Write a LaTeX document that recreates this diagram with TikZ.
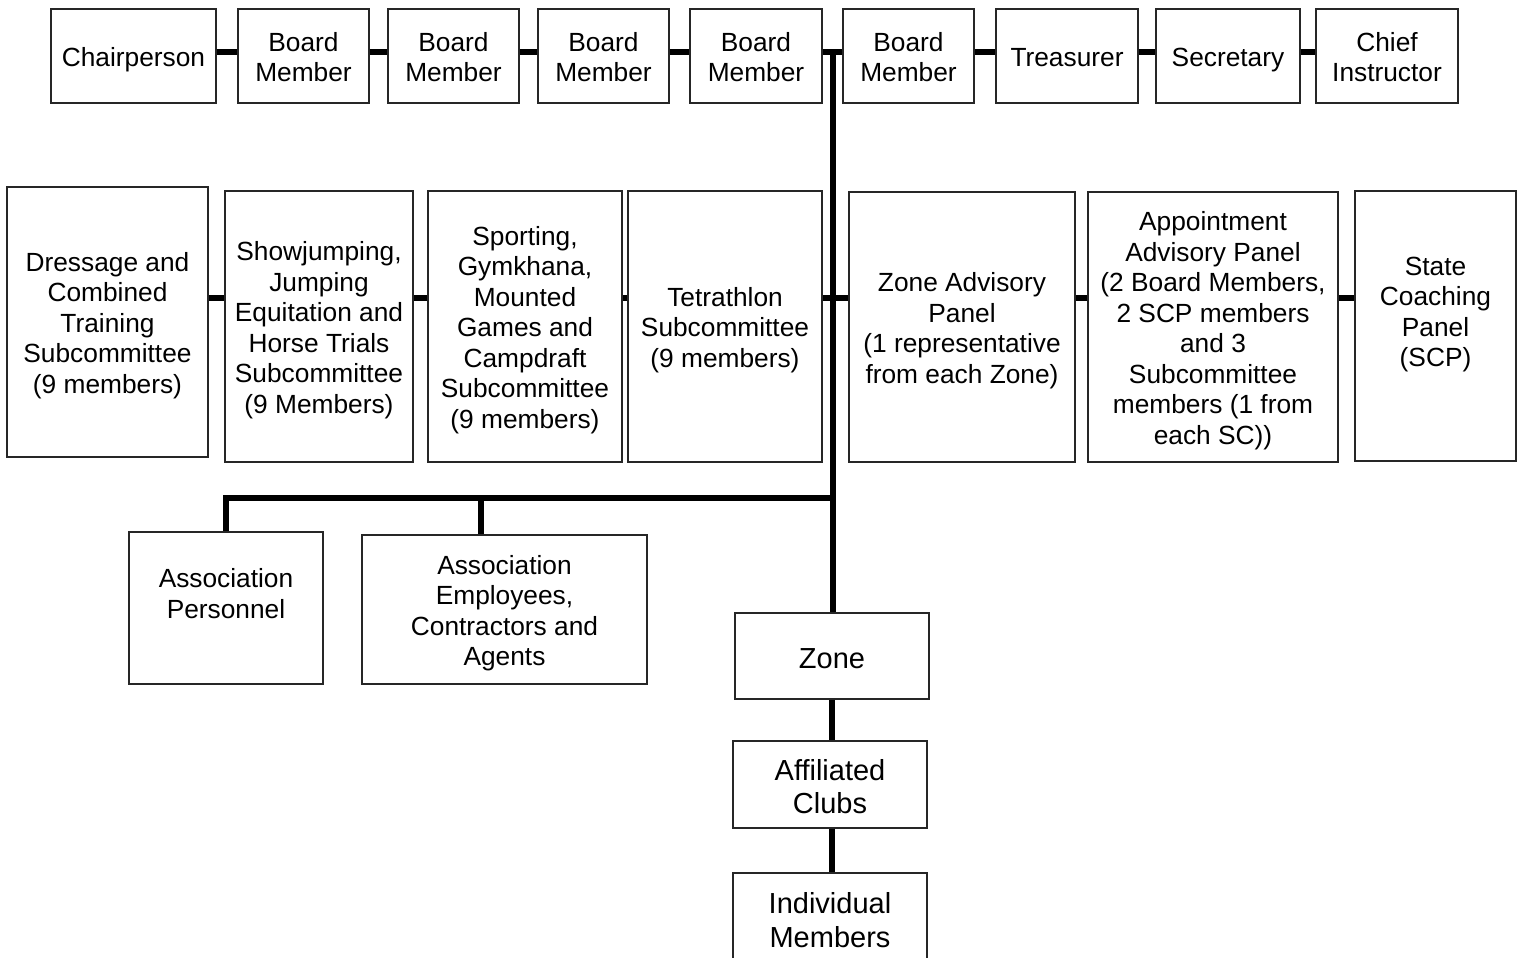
\documentclass[tikz,border=0pt]{standalone}
\usepackage{fontspec}
\setmainfont{Liberation Sans}
\usetikzlibrary{calc}
\newcommand{\orgfont}{\fontsize{26.3}{30.5}\selectfont}
\newcommand{\chainfont}{\fontsize{29}{33.5}\selectfont}

\begin{document}
\begin{tikzpicture}[x=1pt,y=-1pt,
  box/.style={draw=black!85,line width=1.2pt,align=center,inner sep=0pt,font=\orgfont,text depth=5.8pt},
  chain/.style={box,font=\chainfont,text depth=4.5pt},
  size/.style 2 args={minimum width=#1pt,minimum height=#2pt},
  nlines/.code={\pgfmathsetlengthmacro\boxht{26.3pt+(#1-1)*30.5pt}%
    \edef\boxtmp{\noexpand\pgfkeysalso{text height=\boxht}}\boxtmp},
  clines/.code={\pgfmathsetlengthmacro\boxht{29pt+(#1-1)*33.5pt}%
    \edef\boxtmp{\noexpand\pgfkeysalso{text height=\boxht}}\boxtmp},
  link/.style={line width=6pt}]
\useasboundingbox (0,0) rectangle (1523,958);
% Board row
\node[box,nlines=1,size={165}{94}] (chair) at (133.5,56) {Chairperson};
\node[box,nlines=2,size={131}{94}] (bm1) at (303.5,56) {Board\\Member};
\node[box,nlines=2,size={131}{94}] (bm2) at (453.5,56) {Board\\Member};
\node[box,nlines=2,size={131}{94}] (bm3) at (603.5,56) {Board\\Member};
\node[box,nlines=2,size={132}{94}] (bm4) at (756,56) {Board\\Member};
\node[box,nlines=2,size={131}{94}] (bm5) at (908.5,56) {Board\\Member};
\node[box,nlines=1,size={142}{94}] (treas) at (1067,56) {Treasurer};
\node[box,nlines=1,size={144}{94}] (secr) at (1228,56) {Secretary};
\node[box,nlines=2,size={142}{94}] (chief) at (1387,56) {Chief\\Instructor};
% Subcommittees and panels
\node[box,nlines=5,size={201}{270}] (dress) at (107.5,322) {Dressage and\\Combined\\Training\\Subcommittee\\(9 members)};
\node[box,nlines=6,size={188}{271}] (show) at (319,326.5) {Showjumping,\\Jumping\\Equitation and\\Horse Trials\\Subcommittee\\(9 Members)};
\node[box,nlines=7,size={194}{271}] (sport) at (525,326.5) {Sporting,\\Gymkhana,\\Mounted\\Games and\\Campdraft\\Subcommittee\\(9 members)};
\node[box,nlines=3,size={194}{271}] (tetra) at (725,326.5) {Tetrathlon\\Subcommittee\\(9 members)};
\node[box,nlines=4,size={226}{270}] (zadv) at (962,327) {Zone Advisory\\Panel\\(1 representative\\from each Zone)};
\node[box,nlines=8,size={250}{270}] (appt) at (1213,327) {Appointment\\Advisory Panel\\(2 Board Members,\\2 SCP members\\and 3\\Subcommittee\\members (1 from\\each SC))};
\node[box,nlines=5,size={161}{270}] (state) at (1435.5,326) {State\\Coaching\\Panel\\(SCP)\\\mbox{}};
% Staff
\node[box,nlines=3,size={194}{152}] (pers) at (226,608) {Association\\Personnel\\\mbox{}};
\node[box,nlines=4,size={285}{149}] (emp) at (504.5,609.5) {Association\\Employees,\\Contractors and\\Agents};
% Zone chain
\node[chain,clines=1,size={194}{86}] (zone) at (832,656) {Zone};
\node[chain,clines=2,size={194}{87}] (club) at (830,784.5) {Affiliated\\Clubs};
\node[chain,clines=2,size={194}{90}] (indiv) at (830,918) {Individual\\Members};
% Connectors
\coordinate (top) at (0,52);
\coordinate (mid) at (0,298);
\coordinate (trunk) at (832.5,52);
\coordinate (split) at (481,498);
\foreach \a/\b in {chair/bm1,bm1/bm2,bm2/bm3,bm3/bm4,bm4/bm5,bm5/treas,treas/secr,secr/chief}
  \draw[link] (\a.east |- top) -- (\b.west |- top);
\foreach \a/\b in {dress/show,show/sport,sport/tetra,tetra/zadv,zadv/appt,appt/state}
  \draw[link] (\a.east |- mid) -- (\b.west |- mid);
\draw[link] (trunk) -- (trunk |- zone.north);
\draw[link] (trunk |- split) -| (pers.north);
\draw[link] (split) -- (split |- emp.north);
\draw[link] (zone.south) -- (zone.south |- club.north);
\draw[link] (club.south -| zone.south) -- (zone.south |- indiv.north);
\end{tikzpicture}
\end{document}
